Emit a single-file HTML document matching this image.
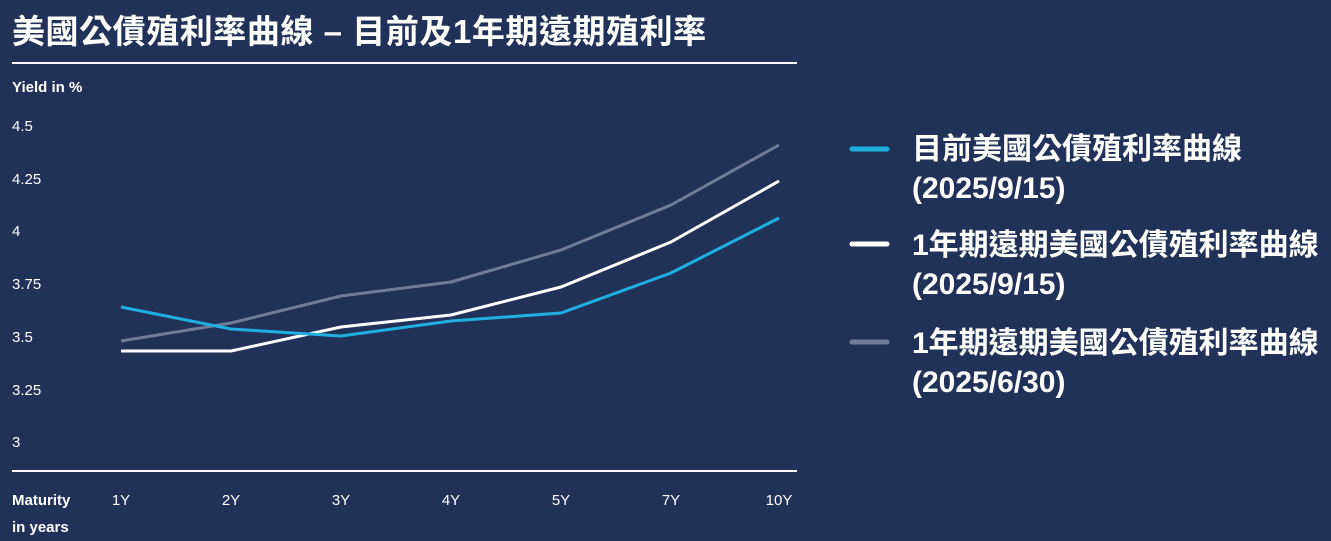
<!DOCTYPE html>
<html><head><meta charset="utf-8"><style>
body{margin:0;background:#213259;}
svg{display:block}
text{font-family:"Liberation Sans","Noto Sans CJK TC",sans-serif;fill:#fff}
</style></head><body>
<svg width="1331" height="541" viewBox="0 0 1331 541">
<rect width="1331" height="541" fill="#213259"/>
<text x="12" y="43" font-size="33" font-weight="bold" letter-spacing="0.55">美國公債殖利率曲線 – 目前及1年期遠期殖利率</text>
<line x1="12" y1="63" x2="797" y2="63" stroke="#fff" stroke-width="2"/>
<text x="12" y="92" font-size="15" font-weight="bold">Yield in %</text>
<g font-size="15" fill="#e8e8f0">
<text x="12" y="131">4.5</text>
<text x="12" y="184">4.25</text>
<text x="12" y="236">4</text>
<text x="12" y="289">3.75</text>
<text x="12" y="342">3.5</text>
<text x="12" y="395">3.25</text>
<text x="12" y="447">3</text>
</g>
<line x1="12" y1="471" x2="797" y2="471" stroke="#fff" stroke-width="2"/>
<text x="12" y="505" font-size="15" font-weight="bold">Maturity</text>
<text x="12" y="532" font-size="15" font-weight="bold">in years</text>
<g font-size="15" text-anchor="middle">
<text x="121" y="505">1Y</text><text x="231" y="505">2Y</text><text x="341" y="505">3Y</text>
<text x="451" y="505">4Y</text><text x="561" y="505">5Y</text><text x="671" y="505">7Y</text><text x="779" y="505">10Y</text>
</g>
<g fill="none" stroke-width="3" stroke-linejoin="round">
<polyline stroke="#6f7d99" points="121,341 231,323 341,296 451,282 561,250 671,205 779,145"/>
<polyline stroke="#ffffff" points="121,351 231,351 341,327 451,315 561,287 671,242 779,181"/>
<polyline stroke="#1fb0e0" points="121,307 231,329 341,336 451,321 561,313 671,273 779,218"/>
</g>
<g stroke-width="5" stroke-linecap="round">
<line x1="852" y1="149" x2="887" y2="149" stroke="#1fb0e0"/>
<line x1="852" y1="244" x2="887" y2="244" stroke="#fff"/>
<line x1="852" y1="342" x2="887" y2="342" stroke="#6f7d99"/>
</g>
<g font-size="30" font-weight="bold">
<text x="912" y="159">目前美國公債殖利率曲線</text>
<text x="912" y="198">(2025/9/15)</text>
<text x="912" y="255">1年期遠期美國公債殖利率曲線</text>
<text x="912" y="294">(2025/9/15)</text>
<text x="912" y="353">1年期遠期美國公債殖利率曲線</text>
<text x="912" y="392">(2025/6/30)</text>
</g>
</svg>
</body></html>
